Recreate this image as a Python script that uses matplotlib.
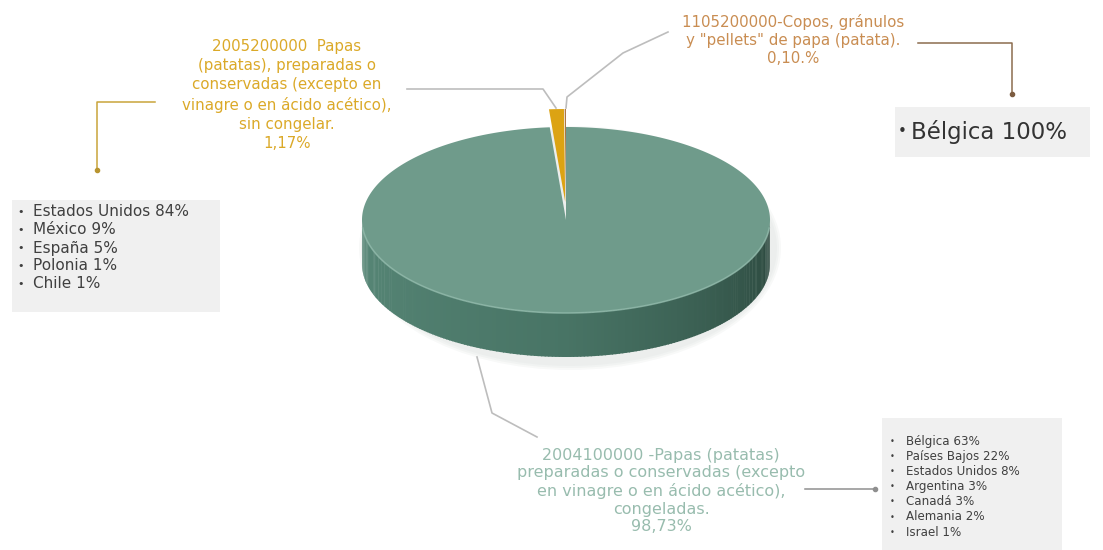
import numpy as np
import matplotlib.pyplot as plt
from matplotlib.patches import Polygon, Rectangle, Ellipse

# participación por subpartida (%), orden horario desde las 12
PARTIDAS = ["2004100000", "2005200000", "1105200000"]
SHARES = [98.73, 1.17, 0.10]
TOP_COLORS = ["#6f9b8b", "#dca313", "#a86f3a"]

LABEL_CONG = ("2004100000 -Papas (patatas)\npreparadas o conservadas (excepto\n"
              "en vinagre o en ácido acético),\ncongeladas.\n98,73%")
LABEL_SIN = ("2005200000  Papas\n(patatas), preparadas o\nconservadas (excepto en\n"
             "vinagre o en ácido acético),\nsin congelar.\n1,17%")
LABEL_COPOS = "1105200000-Copos, gránulos\ny \"pellets\" de papa (patata).\n0,10.%"

PAISES_SIN = ["Estados Unidos 84%", "México 9%", "España 5%", "Polonia 1%", "Chile 1%"]
PAISES_COPOS = ["Bélgica 100%"]
PAISES_CONG = ["Bélgica 63%", "Países Bajos 22%", "Estados Unidos 8%", "Argentina 3%",
               "Canadá 3%", "Alemania 2%", "Israel 1%"]

CX, CY = 566, 220      # centro de la cara superior
RA, RB = 204, 93       # semiejes
DEPTH = 44
EXPLODE = [0, 18, 18]

fig = plt.figure(figsize=(11.03, 5.5), dpi=100)
ax = fig.add_axes([0, 0, 1, 1])
ax.set_xlim(0, 1103)
ax.set_ylim(550, 0)
ax.axis("off")


def ell(t, dx=0, dy=0):
    t = np.radians(t)
    return np.column_stack([CX + dx + RA * np.cos(t), CY + dy - RB * np.sin(t)])


# sombra suave
for k, al in enumerate([0.05, 0.05, 0.04]):
    ax.add_patch(Ellipse((CX + 4, CY + DEPTH / 2 + 6), 2 * RA + 14 - 4 * k,
                         2 * RB + DEPTH + 14 - 4 * k, color="#7a8a85", alpha=al, lw=0, zorder=1))

# costado del cilindro con degradado
c_left = np.array([0x58, 0x88, 0x78]) / 255
c_mid = np.array([0x48, 0x74, 0x65]) / 255
c_right = np.array([0x2b, 0x47, 0x3d]) / 255
ts = np.linspace(180, 360, 181)
for t0, t1 in zip(ts[:-1], ts[1:]):
    f = ((t0 + t1) / 2 - 180) / 180
    col = c_left + (c_mid - c_left) * f * 2 if f < 0.5 else c_mid + (c_right - c_mid) * (f - 0.5) * 2
    arc = ell(np.array([t0, t1 + 0.3]))
    pts = np.vstack([arc, arc[::-1] + [0, DEPTH]])
    ax.add_patch(Polygon(pts, closed=True, color=col, lw=0, zorder=2))

# caras superiores de cada porción
start = 90.0
for share, col, ex in zip(SHARES, TOP_COLORS, EXPLODE):
    sweep = share * 3.6
    t = np.linspace(start, start - sweep, max(int(sweep), 2) * 2)
    mid = np.radians(start - sweep / 2)
    dx, dy = ex * np.cos(mid), -ex * np.sin(mid)
    pts = np.vstack([[CX + dx, CY + dy], ell(t, dx, dy)])
    ax.add_patch(Polygon(pts, closed=True, color=col, lw=0, zorder=3))
    start -= sweep

# brillo en el borde frontal
front = ell(np.linspace(185, 355, 120))
ax.plot(front[:, 0], front[:, 1], color="#8fb8a9", lw=1.2, alpha=0.8, zorder=4)

font = "DejaVu Sans"
gray = "#bdbdbd"

# etiquetas de las porciones
ax.text(287, 95, LABEL_SIN, ha="center", va="center", fontsize=10.8, color="#dba928",
        linespacing=1.35, family=font)
ax.text(793, 40, LABEL_COPOS, ha="center", va="center", fontsize=10.8, color="#c98d52",
        linespacing=1.25, family=font)
ax.text(661, 491, LABEL_CONG, ha="center", va="center", fontsize=11.5, color="#98bcae",
        linespacing=1.22, family=font)

# líneas guía
ax.plot([407, 543, 556], [89, 89, 108], color=gray, lw=1.2, zorder=5)
ax.plot([668, 623, 567, 566], [32, 53, 97, 108], color=gray, lw=1.2, zorder=5)
ax.plot([477, 492, 537], [357, 413, 437], color=gray, lw=1.2, zorder=5)
ax.plot([805, 875], [489, 489], color="#8f8f8f", lw=1.1)
ax.plot([875], [489], "o", color="#8f8f8f", ms=3)
ax.plot([155, 97, 97], [102, 102, 170], color="#c9a43a", lw=1.1)
ax.plot([97], [170], "o", color="#b89430", ms=3)
ax.plot([918, 1012, 1012], [43, 43, 94], color="#8c6c4e", lw=1.1)
ax.plot([1012], [94], "o", color="#7c5c40", ms=3)

# cuadros con los países de destino
box = "#f0f0f0"
ax.add_patch(Rectangle((12, 200), 208, 112, color=box, lw=0))
for i, p in enumerate(PAISES_SIN):
    y = 212 + 18 * i
    ax.text(21, y, "•", ha="center", va="center", fontsize=8, color="#404040", family=font)
    ax.text(33, y, p, ha="left", va="center", fontsize=11, color="#404040", family=font)

ax.add_patch(Rectangle((895, 107), 195, 50, color=box, lw=0))
for i, p in enumerate(PAISES_COPOS):
    ax.text(902, 132, "•", ha="center", va="center", fontsize=11, color="#333333", family=font)
    ax.text(911, 132, p, ha="left", va="center", fontsize=16.5, color="#333333", family=font)

ax.add_patch(Rectangle((882, 418), 180, 132, color=box, lw=0))
for i, p in enumerate(PAISES_CONG):
    y = 441 + 15.2 * i
    ax.text(892, y, "•", ha="center", va="center", fontsize=6, color="#404040", family=font)
    ax.text(906, y, p, ha="left", va="center", fontsize=8.6, color="#404040", family=font)

fig.savefig("out.png", dpi=100)
